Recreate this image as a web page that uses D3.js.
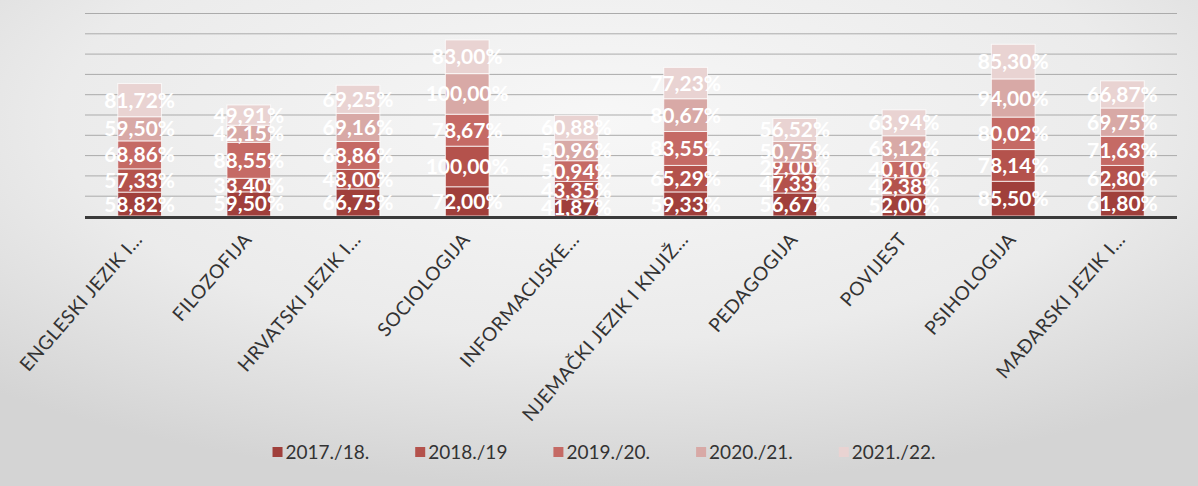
<!DOCTYPE html>
<html>
<head>
<meta charset="utf-8">
<script src="https://cdn.jsdelivr.net/npm/d3@7/dist/d3.min.js"></script>
<style>
  body { margin: 0; background: #e6e6e6; }
  svg { display: block; }
</style>
</head>
<body>
<svg id="chart"></svg>
<script>
// categories (truncated as on the axis)
const categories = ['ENGLESKI JEZIK I…', 'FILOZOFIJA', 'HRVATSKI JEZIK I…', 'SOCIOLOGIJA', 'INFORMACIJSKE…',
    'NJEMAČKI JEZIK I KNJIŽ…', 'PEDAGOGIJA', 'POVIJEST', 'PSIHOLOGIJA', 'MAĐARSKI JEZIK I…']
const seasons = ['2017./18.', '2018./19', '2019./20.', '2020./21.', '2021./22.']

// series values (%)
const v2017 = [58.82, 59.50, 66.75, 72.00, 41.87, 59.33, 56.67, 52.00, 85.50, 61.80]
const v2018 = [57.33, 33.40, 48.00, 100.00, 43.35, 65.29, 47.33, 42.38, 78.14, 62.80]
const v2019 = [68.86, 88.55, 68.86, 78.67, 50.94, 83.55, 29.00, 40.10, 80.02, 71.63]
const v2020 = [59.50, 42.15, 69.16, 100.00, 50.96, 80.67, 50.75, 63.12, 94.00, 69.75]
const v2021 = [81.72, 49.91, 69.25, 83.00, 60.88, 77.23, 56.52, 63.94, 85.30, 66.87]

const yTicks = [50, 100, 150, 200, 250, 300, 350, 400, 450, 500]
const colors = ['#a03f3b', '#b4524c', '#c56a65', '#d8a9a6', '#e9d3d2']

const size = {width: 1198, height: 486}
const margin = {top: 13, right: 21, left: 85, baseline: 216}

const series = [v2017, v2018, v2019, v2020, v2021]
const table = categories.map((c, i) => {
    const row = {cat: c}
    seasons.forEach((s, k) => row[s] = series[k][i])
    return row
})

const svg = d3.select('#chart')
    .attr('width', size.width)
    .attr('height', size.height)

// paper-like background
const defs = svg.append('defs')
const bg = defs.append('radialGradient')
    .attr('id', 'bg')
    .attr('cx', 0.5).attr('cy', 0.25).attr('r', 0.75)
bg.append('stop').attr('offset', '0%').attr('stop-color', '#f7f7f7')
bg.append('stop').attr('offset', '60%').attr('stop-color', '#ebebeb')
bg.append('stop').attr('offset', '100%').attr('stop-color', '#d4d4d4')

svg.append('rect')
    .attr('width', size.width)
    .attr('height', size.height)
    .attr('fill', 'url(#bg)')

const xScale = d3.scaleBand()
    .domain(categories)
    .range([margin.left, size.width - margin.right])
    .paddingInner(0.6)
    .paddingOuter(0.3)

const yScale = d3.scaleLinear()
    .domain([0, 500])
    .range([margin.baseline, margin.top])

// gridlines
const yAxis = d3.axisLeft(yScale)
    .tickValues(yTicks)
    .tickSize(-(size.width - margin.right - margin.left))
    .tickFormat('')

const gridG = svg.append('g')
    .attr('transform', `translate(${margin.left},0)`)
    .call(yAxis)
gridG.select('.domain').remove()
gridG.selectAll('.tick line')
    .attr('stroke', '#ababab')
    .attr('stroke-width', 1)

// stacked bars
const stack = d3.stack().keys(seasons)
const stacked = stack(table)

const layers = svg.append('g')
    .selectAll('g')
    .data(stacked)
    .join('g')
    .attr('fill', (d, i) => colors[i])

layers.selectAll('rect')
    .data(d => d)
    .join('rect')
    .attr('x', d => xScale(d.data.cat))
    .attr('y', d => yScale(d[1]))
    .attr('width', xScale.bandwidth())
    .attr('height', d => yScale(d[0]) - yScale(d[1]))
    .attr('stroke', 'rgba(255,255,255,0.75)')
    .attr('stroke-width', 1)

// baseline
svg.append('line')
    .attr('x1', margin.left)
    .attr('x2', size.width - margin.right)
    .attr('y1', margin.baseline + 1.5)
    .attr('y2', margin.baseline + 1.5)
    .attr('stroke', '#3a3a3a')
    .attr('stroke-width', 3)

// data labels
const fmt = v => d3.format('.2f')(v).replace('.', ',') + '%'
layers.selectAll('text')
    .data(d => d)
    .join('text')
    .attr('x', d => xScale(d.data.cat) + xScale.bandwidth() / 2)
    .attr('y', d => (yScale(d[0]) + yScale(d[1])) / 2)
    .attr('dy', '0.36em')
    .attr('text-anchor', 'middle')
    .attr('fill', '#ffffff')
    .attr('font-family', 'Lato, sans-serif')
    .attr('font-weight', 700)
    .attr('font-size', 21)
    .text(d => fmt(d[1] - d[0]))

// category labels
svg.append('g')
    .selectAll('text')
    .data(categories)
    .join('text')
    .attr('transform', d => `translate(${xScale(d) + xScale.bandwidth() / 2 + 4}, 240) rotate(-49)`)
    .attr('text-anchor', 'end')
    .attr('fill', '#333333')
    .attr('font-family', 'Lato, sans-serif')
    .attr('font-size', 19)
    .attr('letter-spacing', 0.6)
    .text(d => d)

// legend
const legend = svg.append('g')
let cursor = 0
seasons.forEach((s, i) => {
    const item = legend.append('g').attr('transform', `translate(${cursor},0)`)
    item.append('rect')
        .attr('x', 0).attr('y', -5)
        .attr('width', 10).attr('height', 10)
        .attr('fill', colors[i])
    const t = item.append('text')
        .attr('x', 13)
        .attr('dy', '0.35em')
        .attr('fill', '#333333')
        .attr('font-family', 'Lato, sans-serif')
        .attr('font-size', 19)
        .text(s)
    cursor += 13 + t.node().getComputedTextLength() + 46
})
const legendWidth = cursor - 46
legend.attr('transform', `translate(${604 - legendWidth / 2}, 452)`)
</script>
</body>
</html>
